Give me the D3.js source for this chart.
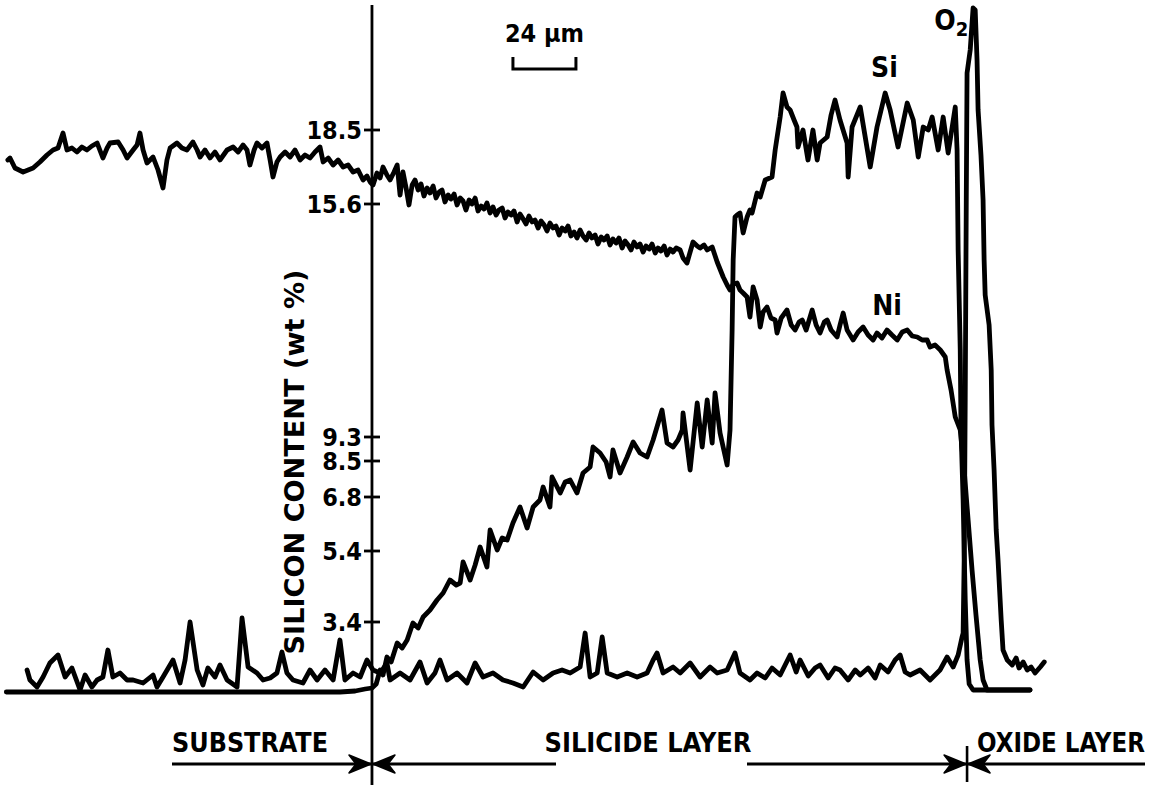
<!DOCTYPE html>
<html>
<head>
<meta charset="utf-8">
<script src="https://cdn.jsdelivr.net/npm/d3@7"></script>
<style>
  html, body { margin: 0; padding: 0; background: #fff; }
  svg { display: block; }
  text { font-family: "DejaVu Sans Condensed", "DejaVu Sans", sans-serif; font-weight: bold; fill: #000; }
</style>
</head>
<body>
<svg id="chart" width="1159" height="785"></svg>
<script>
// ---- data: [distance (µm), relative X-ray intensity] ----
const niProfile = [[1.1,106.4],[1.9,106.8],[3.8,104.8],[6.9,104.0],[10.7,104.8],[13.3,106.0],[16.0,107.4],[18.3,108.4],[20.2,108.8],[22.1,111.8],[23.6,108.4],[25.5,108.8],[27.4,108.0],[29.3,109.0],[31.2,108.4],[33.1,109.2],[35.1,109.8],[37.3,106.8],[38.9,108.8],[40.0,109.8],[43.1,110.0],[45.0,108.4],[46.5,106.8],[48.8,108.4],[50.3,109.4],[51.4,111.8],[52.6,108.4],[54.1,105.8],[56.4,107.0],[58.3,104.4],[60.2,100.8],[61.7,106.4],[62.9,108.8],[65.5,109.8],[67.4,108.8],[69.3,108.4],[71.6,110.0],[73.2,108.4],[74.3,107.0],[76.2,108.4],[78.1,106.8],[80.0,108.0],[81.9,106.4],[84.6,108.4],[86.9,109.0],[88.8,108.0],[90.7,109.4],[92.2,108.4],[93.3,105.4],[94.9,108.4],[96.0,109.8],[97.9,108.8],[99.8,109.8],[101.0,106.4],[102.1,103.0],[103.6,106.0],[104.8,107.0],[106.7,108.0],[108.6,107.0],[110.5,108.4],[112.4,106.4],[114.3,107.4],[116.2,106.8],[118.1,108.0],[120.0,109.0],[121.2,106.0],[123.1,106.8],[125.0,105.4],[126.9,106.4],[128.8,105.0],[130.7,105.4],[132.6,104.0],[134.5,104.4],[136.4,102.4],[137.9,103.2],[139.1,102.0],[140.2,101.4],[141.7,103.8],[142.9,102.8],[144.0,105.0],[145.5,103.4],[146.7,102.4],[148.2,104.0],[149.4,105.4],
[150.5,99.4],[151.6,104.0],[152.8,100.8],[153.9,97.4],[155.1,101.4],[156.2,102.4],[157.4,100.4],[158.5,101.6],[159.6,99.2],[160.8,100.8],[161.9,99.8],[163.1,101.2],[164.2,98.8],[165.4,100.0],[166.5,100.4],[167.6,98.0],[168.8,99.4],[169.9,98.6],[171.1,99.6],[172.2,97.4],[173.4,98.8],[174.5,98.2],[175.6,96.4],[176.8,98.4],[177.9,97.6],[179.1,98.8],[180.2,96.2],[181.4,97.2],[182.5,96.6],[183.6,97.8],[184.8,95.8],[185.9,97.0],[187.1,95.4],[188.2,96.4],[189.4,96.8],[190.5,94.8],[191.6,96.0],[192.8,95.4],[193.9,96.2],[195.1,94.0],[196.2,95.6],[197.4,94.6],[198.5,93.6],[199.6,95.2],[200.8,94.0],[201.9,94.4],[203.1,92.8],[204.2,94.2],[205.4,93.4],[206.5,92.2],[207.6,93.8],[208.8,92.8],[209.9,93.2],[211.1,91.4],[212.2,92.8],[213.4,92.2],[214.5,93.2],[215.6,91.2],[216.8,92.0],[217.9,90.8],[219.1,92.4],[220.2,91.2],[221.4,90.4],[222.5,91.8],[223.6,90.8],[224.8,91.4],[225.9,89.6],[227.1,91.0],[228.2,90.4],[229.4,91.2],[230.5,89.4],[231.6,90.6],[232.8,89.8],[233.9,90.8],[235.1,88.8],[236.2,90.2],[237.4,89.4],[238.5,88.4],[239.6,90.0],[240.8,89.0],[241.9,89.6],[243.1,88.0],[244.2,89.2],[245.4,88.6],[246.5,89.6],[247.7,87.8],[248.8,88.8],[249.9,88.2],[251.1,89.2],[252.2,87.4],[253.4,88.6],[254.5,88.0],[255.7,88.8],
[257.2,88.4],[258.3,86.8],[259.8,85.8],[261.0,88.0],[262.1,90.0],[263.7,89.2],[264.8,88.8],[266.3,89.4],[267.5,88.4],[269.4,89.0],[271.3,86.0],[273.6,83.0],[275.1,81.4],[276.2,80.4],[277.4,81.6],[278.9,81.8],[280.0,80.4],[281.2,79.8],[282.7,79.0],[283.8,75.0],[285.0,81.0],[286.5,78.4],[287.7,73.0],[288.8,76.0],[290.3,77.0],[291.8,74.8],[293.4,74.4],[294.1,71.8],[295.7,74.8],[297.9,76.4],[299.5,73.4],[301.0,72.4],[302.5,74.0],[303.7,74.4],[305.2,72.4],[307.5,76.4],[309.0,73.4],[310.5,71.8],[312.1,74.0],[313.2,74.4],[314.7,72.4],[317.0,71.0],[318.1,73.4],[319.3,75.8],[320.8,72.4],[323.1,70.4],[325.0,72.0],[326.9,73.0],[328.8,71.4],[330.7,70.4],[332.2,71.8],[334.1,70.8],[336.0,72.4],[337.9,71.4],[339.9,70.4],[341.8,72.0],[343.7,72.4],[345.6,71.2],[347.5,71.0],[349.4,70.4],[351.3,70.4],[352.4,69.0],[354.3,69.4],[356.3,68.4],[358.2,67.0],[358.9,64.4],[360.4,60.4],[362.0,55.0],[363.9,52.4],[365.4,44.4],[366.9,34.4],[368.4,24.4],[369.9,15.4],[371.5,6.4],[372.6,2.4],[374.1,0.4],[379.1,0.4],[390.5,0.4]];

const siProfile = [[0.5,0],[127.6,0],[133.4,0.2],[137.2,0.6],[139.8,0.8],[141.4,1.6],[142.9,4.4],[144.0,3.4],[145.5,7.0],[147.1,6.0],[149.4,9.8],[151.3,8.8],[153.2,10.4],[155.4,13.8],[157.4,12.8],[159.3,15.0],[161.9,16.4],[164.6,18.4],[166.9,19.8],[169.5,22.4],[171.9,21.4],[173.4,21.8],[174.5,26.0],[177.2,22.4],[179.1,25.4],[181.0,29.0],[183.6,25.0],[184.8,32.4],[187.5,28.4],[189.4,30.8],[191.3,30.4],[193.5,33.8],[196.2,37.0],[198.9,32.8],[201.2,37.0],[203.8,38.4],[205.0,41.0],[207.6,37.0],[208.4,43.0],[211.5,39.8],[213.4,42.0],[215.3,42.4],[217.9,39.8],[220.2,43.8],[222.9,45.0],[224.0,49.0],[226.7,47.8],[229.0,46.0],[230.5,43.0],[231.6,48.4],[234.3,43.8],[237.0,47.0],[239.3,50.0],[241.9,47.8],[244.6,47.0],[246.9,50.4],[250.3,56.4],[252.2,49.8],[254.5,49.0],[256.4,50.4],[258.0,52.4],[258.3,55.8],[261.0,44.4],[263.7,57.8],[265.6,49.0],[267.5,58.4],[269.4,49.8],[270.5,59.8],[272.4,51.8],[275.1,45.4],[276.2,52.4],[277.0,72.4],[277.4,86.4],[278.1,95.0],[278.9,95.4],[280.0,95.8],[281.2,91.8],[282.7,95.0],[283.8,96.4],[284.6,95.8],[286.5,99.8],[287.7,99.0],[289.6,102.4],[292.2,103.0],[293.4,108.4],[295.3,115.0],[296.4,119.8],[297.9,117.0],[299.1,116.4],[300.6,114.4],[301.7,113.0],[302.1,109.0],[304.0,112.4],[305.9,106.4],[307.8,112.4],[309.4,106.4],[310.5,109.8],[313.2,111.0],[314.7,115.4],[316.2,118.4],[318.1,114.4],[320.8,109.8],[321.2,103.0],[322.7,113.0],[325.8,117.0],[327.7,111.0],[329.6,105.0],[332.2,113.0],[335.3,119.8],[337.2,116.4],[340.2,109.0],[343.7,117.8],[346.0,114.4],[347.9,107.0],[349.8,113.0],[351.7,112.4],[353.2,115.0],[355.5,108.4],[357.4,115.0],[359.3,107.8],[362.0,117.0],[362.7,108.4],[363.1,88.4],[363.9,68.4],[364.2,52.4],[365.0,38.4],[365.8,18.4],[366.5,6.4],[367.3,1.6],[368.8,0.4],[379.1,0.4],[390.5,0.4]];

const o2Profile = [[8.4,4.4],[9.5,2.4],[12.2,1.0],[14.5,3.0],[17.1,5.8],[20.2,7.4],[22.9,3.0],[25.5,4.8],[28.6,0.4],[30.5,3.4],[33.1,1.0],[35.1,2.4],[37.3,3.0],[39.2,8.4],[41.1,3.0],[43.8,3.8],[46.5,2.4],[48.8,2.4],[52.6,1.8],[56.4,3.4],[57.9,1.0],[60.2,3.0],[64.0,6.4],[66.7,1.8],[68.6,6.4],[70.5,14.0],[73.2,4.4],[75.4,1.4],[77.3,4.8],[80.0,3.0],[81.9,5.4],[84.6,2.4],[88.4,1.0],[90.3,14.8],[92.6,5.0],[96.0,3.8],[98.3,2.4],[101.0,2.8],[103.6,3.8],[105.5,8.0],[107.4,3.8],[109.7,2.4],[113.5,1.8],[116.2,4.4],[118.9,2.4],[121.9,4.4],[125.0,2.4],[127.6,10.4],[129.5,2.4],[132.6,3.8],[135.3,3.0],[137.9,6.4],[140.2,4.4],[142.9,3.8],[145.5,5.8],[146.7,2.4],[150.5,3.8],[154.3,2.4],[158.1,6.0],[160.8,1.8],[163.8,3.8],[165.7,6.4],[168.4,2.4],[172.2,3.8],[176.0,1.8],[179.1,5.8],[182.1,3.0],[185.9,3.8],[189.7,2.4],[193.5,1.8],[197.4,1.0],[201.2,4.0],[205.0,2.4],[208.8,3.8],[212.2,4.4],[215.3,3.8],[219.1,5.0],[221.0,11.8],[222.9,3.0],[225.6,3.8],[227.5,11.0],[229.4,3.8],[233.2,3.0],[237.0,3.8],[240.8,3.0],[244.6,3.8],[246.9,6.4],[248.4,7.8],[250.7,3.8],[254.5,5.0],[257.2,3.8],[261.0,5.8],[264.8,3.0],[268.6,5.0],[271.3,3.8],[275.1,4.4],[278.1,7.8],[280.0,3.8],[283.8,2.4],[286.5,3.8],[289.6,2.8],[292.2,4.8],[295.3,3.4],[299.1,7.4],[301.4,4.0],[302.9,6.4],[306.0,3.2],[308.6,4.8],[310.5,5.4],[313.6,2.8],[316.2,4.8],[318.1,4.4],[321.2,2.4],[323.9,4.4],[325.8,3.4],[328.8,4.8],[331.5,2.8],[333.4,5.4],[336.4,4.0],[339.1,6.4],[341.0,7.4],[342.9,4.0],[344.8,3.4],[348.6,4.4],[352.4,2.4],[356.2,4.4],[358.9,7.0],[361.2,5.0],[363.1,7.4],[364.6,11.0],[365.0,11.8],[365.4,26.4],[365.8,58.4],[366.2,98.4],[366.5,123.8],[367.7,128.4],[368.8,136.8],[369.6,136.4],[370.3,126.4],[370.7,116.4],[371.8,107.4],[372.6,98.4],[373.0,86.4],[373.4,79.4],[374.9,73.4],[375.7,64.4],[376.0,53.4],[376.8,44.4],[377.6,32.4],[378.3,26.4],[379.5,14.4],[380.2,8.4],[381.8,6.4],[383.7,5.4],[385.2,6.8],[386.3,4.8],[387.9,6.0],[389.4,4.4],[390.9,5.0],[392.4,3.8],[394.4,5.0],[395.9,6.0]];

// silicon-content calibration marks on the axis
const siTickLabels = ["18.5", "15.6", "9.3", "8.5", "6.8", "5.4", "3.4"];
const siTickIntensity = [112.4, 97.6, 51.0, 46.2, 39.0, 28.2, 14.0];

// layer boundaries (µm) and layer names
const layerBoundaries = [139.8, 366.5];
const layerNames = ["SUBSTRATE", "SILICIDE LAYER", "OXIDE LAYER"];
const scaleBarStart = 193.5;
const scaleBarLength = 24;   // µm
const seriesLabels = [
  { text: "Si", at: [335.0, 123.0] },
  { text: "Ni", at: [336.0, 75.5] }
];

// ---- drawing ----
const svg = d3.select("#chart");
const W = 1159, H = 785;
svg.append("rect").attr("width", W).attr("height", H).attr("fill", "#fff");

const x = d3.scaleLinear().domain([0, 400]).range([5, 1055]);
const y = d3.scaleLinear().domain([0, 140]).range([692, -8]);

const line = d3.line().x(d => x(d[0])).y(d => y(d[1])).curve(d3.curveLinear);

const curves = [siProfile, niProfile, o2Profile];
svg.selectAll("path.trace").data(curves).join("path")
  .attr("class", "trace")
  .attr("d", line)
  .attr("fill", "none")
  .attr("stroke", "#000")
  .attr("stroke-width", 4.8)
  .attr("stroke-linejoin", "round")
  .attr("stroke-linecap", "round");

// vertical axis at substrate/silicide interface
const ax = x(layerBoundaries[0]);
svg.append("line").attr("x1", ax).attr("x2", ax).attr("y1", 5).attr("y2", H)
  .attr("stroke", "#000").attr("stroke-width", 2.8);

const ticks = svg.append("g");
siTickLabels.forEach((lab, i) => {
  const ty = y(siTickIntensity[i]);
  ticks.append("line").attr("x1", ax - 8).attr("x2", ax + 8).attr("y1", ty).attr("y2", ty)
    .attr("stroke", "#000").attr("stroke-width", 2.8);
  ticks.append("text").attr("x", ax - 10).attr("y", ty).attr("dy", "0.36em")
    .attr("text-anchor", "end").attr("font-size", 25).text(lab);
});

// axis title
svg.append("text")
  .attr("transform", `translate(304,462) rotate(-90)`)
  .attr("text-anchor", "middle")
  .attr("font-size", 27)
  .attr("textLength", 385).attr("lengthAdjust", "spacingAndGlyphs")
  .text("SILICON CONTENT (wt %)");

// series labels
seriesLabels.forEach(s => {
  svg.append("text").attr("x", x(s.at[0])).attr("y", y(s.at[1]))
    .attr("text-anchor", "middle").attr("font-size", 28).text(s.text);
});
const o2 = svg.append("text").attr("x", x(360.5)).attr("y", y(132.4))
  .attr("text-anchor", "middle").attr("font-size", 28);
o2.append("tspan").text("O");
o2.append("tspan").attr("font-size", 20).attr("dy", 6).text("2");

// scale bar
const sb0 = x(scaleBarStart), sb1 = x(scaleBarStart + scaleBarLength);
svg.append("path")
  .attr("d", `M${sb0},57 L${sb0},69 L${sb1},69 L${sb1},57`)
  .attr("fill", "none").attr("stroke", "#000").attr("stroke-width", 3);
svg.append("text").attr("x", (sb0 + sb1) / 2).attr("y", 42)
  .attr("text-anchor", "middle").attr("font-size", 25).text("24 µm");

// layer labels and arrows
const arrowY = 764;
const bx0 = x(layerBoundaries[0]), bx1 = x(layerBoundaries[1]);
const labelPos = [[250, 156], [648, 207], [1061, 168]];
layerNames.forEach((n, i) => {
  svg.append("text").attr("x", labelPos[i][0]).attr("y", 752)
    .attr("text-anchor", "middle").attr("font-size", 27)
    .attr("textLength", labelPos[i][1]).attr("lengthAdjust", "spacingAndGlyphs")
    .text(n);
});
const seg = [[172, bx0], [bx0, 556], [747, bx1], [bx1, 1145]];
seg.forEach(s => {
  svg.append("line").attr("x1", s[0]).attr("x2", s[1]).attr("y1", arrowY).attr("y2", arrowY)
    .attr("stroke", "#000").attr("stroke-width", 3);
});
function head(tx, dir) {
  svg.append("path")
    .attr("d", `M${tx},${arrowY} L${tx - dir * 22},${arrowY - 9} L${tx - dir * 15},${arrowY} L${tx - dir * 22},${arrowY + 9} Z`)
    .attr("fill", "#000").attr("stroke", "#000").attr("stroke-width", 1.5).attr("stroke-linejoin", "round");
}
head(bx0 - 1, 1); head(bx0 + 1, -1); head(bx1 - 1, 1); head(bx1 + 1, -1);
svg.append("line").attr("x1", bx1).attr("x2", bx1).attr("y1", 746).attr("y2", 782)
  .attr("stroke", "#000").attr("stroke-width", 2.6);
</script>
</body>
</html>
